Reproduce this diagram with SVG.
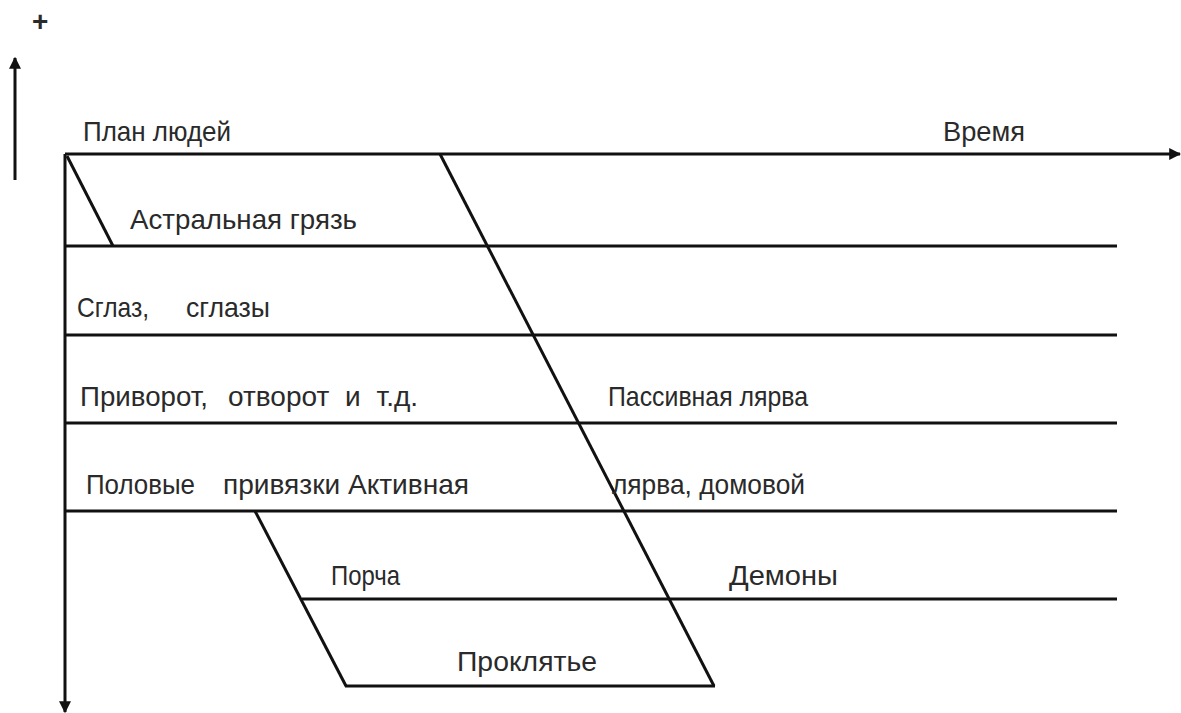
<svg xmlns="http://www.w3.org/2000/svg" width="1181" height="713" viewBox="0 0 1181 713">
<style>
.ln{stroke:#111;stroke-width:3;fill:none}
.t{font-family:"Liberation Sans",Arial,sans-serif;font-size:28px;fill:#2a2a2a}
</style>
<defs>
<marker id="ah" viewBox="0 0 10 10" refX="9" refY="5" markerWidth="4" markerHeight="4" orient="auto" markerUnits="strokeWidth">
<path d="M0,0 L10,5 L0,10 z" fill="#111"/>
</marker>
</defs>
<rect width="1181" height="713" fill="#fff"/>
<g id="connectors">
<line class="ln" x1="15" y1="180" x2="15" y2="58" stroke-width="3.5" marker-end="url(#ah)"/>
<line class="ln" x1="65" y1="154" x2="1180" y2="154" marker-end="url(#ah)"/>
<line class="ln" x1="65" y1="154" x2="65" y2="712" marker-end="url(#ah)"/>
<line class="ln" x1="65" y1="246" x2="1117" y2="246"/>
<line class="ln" x1="65" y1="335" x2="1117" y2="335"/>
<line class="ln" x1="65" y1="423" x2="1117" y2="423"/>
<line class="ln" x1="65" y1="511" x2="1117" y2="511"/>
<line class="ln" x1="302" y1="599" x2="1117" y2="599"/>
<line class="ln" x1="345" y1="686" x2="715" y2="686"/>
<line class="ln" x1="67" y1="156" x2="113" y2="246"/>
<line class="ln" x1="440" y1="154" x2="714" y2="686"/>
<line class="ln" x1="255" y1="511" x2="346" y2="686"/>
</g>
<g id="plus"><text class="t" x="32" y="31" font-size="22" font-weight="bold">+</text></g>
<g id="n-plan"><text class="t" x="83" y="141" textLength="148" lengthAdjust="spacingAndGlyphs">План людей</text></g>
<g id="n-time"><text class="t" x="943" y="141" textLength="82" lengthAdjust="spacingAndGlyphs">Время</text></g>
<g id="n-astral"><text class="t" x="130" y="229" textLength="227" lengthAdjust="spacingAndGlyphs">Астральная грязь</text></g>
<g id="n-sglaz"><text class="t" x="77" y="317" textLength="72" lengthAdjust="spacingAndGlyphs">Сглаз,</text><text class="t" x="186" y="317" textLength="84" lengthAdjust="spacingAndGlyphs">сглазы</text></g>
<g id="n-privorot"><text class="t" x="80" y="406" textLength="128" lengthAdjust="spacingAndGlyphs">Приворот,</text><text class="t" x="228" y="406" word-spacing="8">отворот и т.д.</text></g>
<g id="n-passive"><text class="t" x="608" y="406" textLength="200" lengthAdjust="spacingAndGlyphs">Пассивная лярва</text></g>
<g id="n-polovye"><text class="t" x="86" y="494" textLength="109" lengthAdjust="spacingAndGlyphs">Половые</text><text class="t" x="223" y="494" textLength="246" lengthAdjust="spacingAndGlyphs">привязки Активная</text></g>
<g id="n-larva"><text class="t" x="612" y="494" textLength="193" lengthAdjust="spacingAndGlyphs">лярва, домовой</text></g>
<g id="n-porcha"><text class="t" x="331" y="585" textLength="69" lengthAdjust="spacingAndGlyphs">Порча</text></g>
<g id="n-demony"><text class="t" x="729" y="585" textLength="109" lengthAdjust="spacingAndGlyphs">Демоны</text></g>
<g id="n-proklyatie"><text class="t" x="457" y="671" textLength="140" lengthAdjust="spacingAndGlyphs">Проклятье</text></g>
</svg>
